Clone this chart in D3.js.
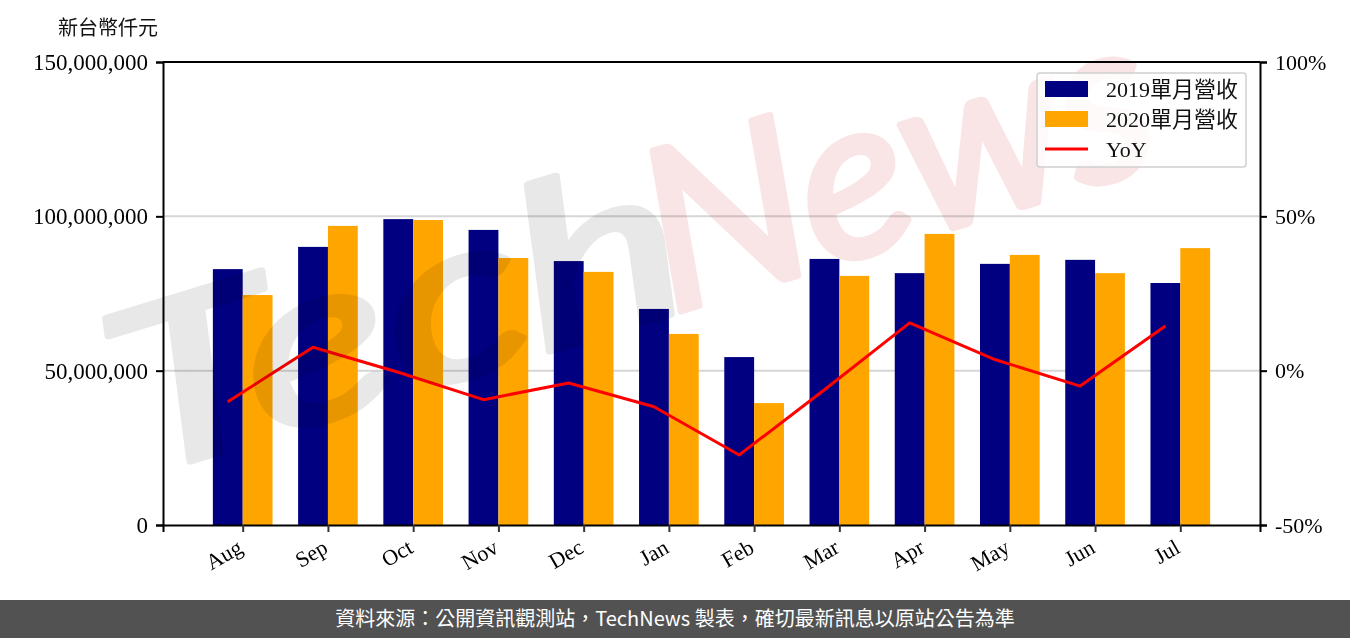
<!DOCTYPE html>
<html>
<head>
<meta charset="utf-8">
<script src="https://cdn.jsdelivr.net/npm/d3@7"></script>
<style>
  body { margin: 0; background: #fff; }
  svg { display: block; }
  .tick text { font-family: "Liberation Serif", "Noto Sans CJK TC", serif; fill: #000; }
</style>
</head>
<body>
<div id="chart"></div>
<script>
// months shown on x axis (Aug 2019 -> Jul 2020)
const months = ['Aug', 'Sep', 'Oct', 'Nov', 'Dec', 'Jan', 'Feb', 'Mar', 'Apr', 'May', 'Jun', 'Jul'];

// monthly revenue, NT$ thousands
const rev2019 = [82900000, 90100000, 99100000, 95600000, 85500000, 70000000,
                 54400000, 86200000, 81600000, 84600000, 85900000, 78400000];
const rev2020 = [74500000, 96900000, 98800000, 86500000, 82000000, 61900000,
                 39500000, 80700000, 94300000, 87500000, 81600000, 89700000];

// year over year change, percent
const yoy = [-10.1, 7.6, -0.5, -9.4, -4.0, -11.7, -27.3, -6.2, 15.5, 3.6, -5.0, 14.5];

const leftTicks = [0, 50000000, 100000000, 150000000];
const rightTicks = [-50, 0, 50, 100];

const W = 1350, H = 638;
const margin = { left: 163, right: 90, top: 62, bottom: 113 };
const innerW = W - margin.left - margin.right;
const innerH = H - margin.top - margin.bottom;
const barW = 0.35;

const svg = d3.select('#chart').append('svg')
    .attr('width', W)
    .attr('height', H);

const x = d3.scaleLinear()
    .domain([-barW - 0.585, months.length - 1 + barW + 0.585])
    .range([0, innerW]);
const y = d3.scaleLinear().domain([0, 150000000]).range([innerH, 0]);
const y2 = d3.scaleLinear().domain([-50, 100]).range([innerH, 0]);

const g = svg.append('g').attr('transform', `translate(${margin.left},${margin.top})`);

// grid behind bars
g.append('g')
    .selectAll('line')
    .data(leftTicks.slice(1, -1))
    .enter().append('line')
    .attr('x1', 0).attr('x2', innerW)
    .attr('y1', d => y(d)).attr('y2', d => y(d))
    .attr('stroke', '#d6d6d6')
    .attr('stroke-width', 2);

// bars
g.append('g')
    .selectAll('rect')
    .data(rev2019)
    .enter().append('rect')
    .attr('x', (d, i) => x(i - barW))
    .attr('width', x(barW) - x(0))
    .attr('y', d => y(d))
    .attr('height', d => innerH - y(d))
    .attr('fill', '#000080');

g.append('g')
    .selectAll('rect')
    .data(rev2020)
    .enter().append('rect')
    .attr('x', (d, i) => x(i))
    .attr('width', x(barW) - x(0))
    .attr('y', d => y(d))
    .attr('height', d => innerH - y(d))
    .attr('fill', '#ffa500');

// yoy line sits at the centre of the 2019 bars
const line = d3.line()
    .x((d, i) => x(i - barW / 2))
    .y(d => y2(d));

g.append('path')
    .datum(yoy)
    .attr('d', line)
    .attr('fill', 'none')
    .attr('stroke', '#ff0000')
    .attr('stroke-width', 3)
    .attr('stroke-linejoin', 'round');

// watermark over the plot, multiplied so bars darken underneath
const wm = svg.append('g')
    .attr('transform', 'translate(135,478) rotate(-17)')
    .style('mix-blend-mode', 'multiply')
    .style('font-family', 'Lato, sans-serif')
    .style('font-style', 'italic')
    .style('font-weight', 400)
    .style('font-size', '225px')
    .attr('stroke-width', 7)
    .attr('stroke-linejoin', 'round');
wm.append('text')
    .attr('x', 0).attr('y', 0)
    .attr('fill', '#e8e8e8').attr('stroke', '#e8e8e8')
    .attr('textLength', 590).attr('lengthAdjust', 'spacingAndGlyphs')
    .text('Tech');
wm.append('text')
    .attr('x', 560).attr('y', 0)
    .attr('fill', '#f9e5e5').attr('stroke', '#f9e5e5')
    .attr('textLength', 520).attr('lengthAdjust', 'spacingAndGlyphs')
    .text('News');

// axes
const axLeft = g.append('g')
    .call(d3.axisLeft(y).tickValues(leftTicks).tickFormat(d3.format(',')).tickSize(7).tickPadding(8));
axLeft.selectAll('text').style('font-size', '23px');

const axRight = g.append('g')
    .attr('transform', `translate(${innerW},0)`)
    .call(d3.axisRight(y2).tickValues(rightTicks).tickFormat(d => d + '%').tickSize(7).tickPadding(8));
axRight.selectAll('text').style('font-size', '22px');

const axBottom = g.append('g')
    .attr('transform', `translate(0,${innerH})`)
    .call(d3.axisBottom(x).tickValues(d3.range(months.length)).tickFormat(i => months[i]).tickSize(7));
axBottom.selectAll('text')
    .style('font-size', '22px')
    .attr('text-anchor', 'end')
    .attr('transform', 'translate(-3,20) rotate(-30)')
    .attr('dy', '0.35em')
    .attr('y', 0);
axBottom.selectAll('.tick line').attr('stroke', '#333').attr('stroke-width', 2);

[axLeft, axRight, axBottom].forEach(a => {
    a.select('.domain').attr('stroke', '#000').attr('stroke-width', 2);
    a.selectAll('.tick line').attr('stroke-width', 2);
});

// top spine
g.append('line')
    .attr('x1', 0).attr('x2', innerW)
    .attr('y1', 0).attr('y2', 0)
    .attr('stroke', '#000').attr('stroke-width', 2);

// unit label
svg.append('text')
    .attr('x', 108).attr('y', 35)
    .attr('text-anchor', 'middle')
    .style('font-family', '"Noto Sans CJK TC", sans-serif')
    .style('font-size', '20px')
    .attr('fill', '#111')
    .text('新台幣仟元');

// legend
const legendItems = [
    { label: '2019單月營收', type: 'rect', color: '#000080' },
    { label: '2020單月營收', type: 'rect', color: '#ffa500' },
    { label: 'YoY', type: 'line', color: '#ff0000' }
];
const lg = svg.append('g').attr('transform', 'translate(1037,73)');
lg.append('rect')
    .attr('width', 209).attr('height', 94)
    .attr('rx', 3)
    .attr('fill', 'rgba(255,255,255,0.8)')
    .attr('stroke', '#d0d0d0')
    .attr('stroke-width', 1.5);
const row = lg.selectAll('g.row')
    .data(legendItems)
    .enter().append('g')
    .attr('class', 'row')
    .attr('transform', (d, i) => `translate(8,${16 + i * 30})`);
row.filter(d => d.type === 'rect').append('rect')
    .attr('x', 0).attr('y', -8)
    .attr('width', 43).attr('height', 16)
    .attr('fill', d => d.color);
row.filter(d => d.type === 'line').append('line')
    .attr('x1', 0).attr('x2', 43)
    .attr('y1', 0).attr('y2', 0)
    .attr('stroke', d => d.color)
    .attr('stroke-width', 3);
row.append('text')
    .attr('x', 61).attr('y', 0).attr('dy', '0.35em')
    .style('font-family', '"Liberation Serif", "Noto Sans CJK TC", serif')
    .style('font-size', '22px')
    .attr('fill', '#111')
    .text(d => d.label);

// footer band
svg.append('rect')
    .attr('x', 0).attr('y', 600)
    .attr('width', W).attr('height', 38)
    .attr('fill', '#525252');
svg.append('text')
    .attr('x', W / 2).attr('y', 626)
    .attr('text-anchor', 'middle')
    .style('font-family', '"Noto Sans CJK TC", sans-serif')
    .style('font-size', '20px')
    .attr('fill', '#fff')
    .text('資料來源：公開資訊觀測站，TechNews 製表，確切最新訊息以原站公告為準');
</script>
</body>
</html>
